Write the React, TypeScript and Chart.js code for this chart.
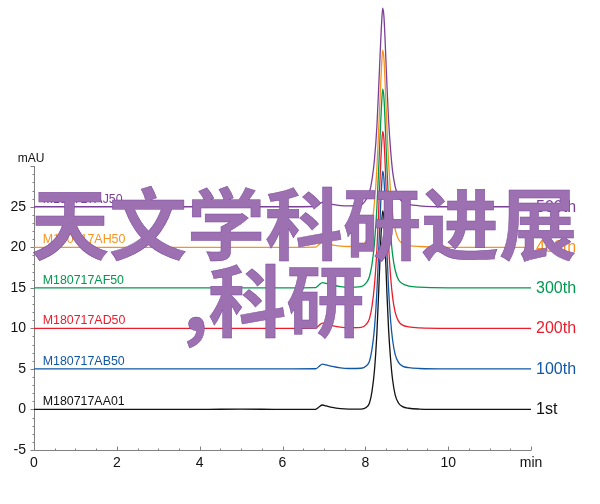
import React, { useEffect, useRef } from 'react';
import { Chart, registerables } from 'chart.js';

Chart.register(...registerables);

// Retention time (min)
const TIME_MIN = [0, 1, 2, 3, 4, 5, 6, 6.8, 6.88, 6.96, 7.05, 7.2, 7.4, 7.6, 7.9, 8.02, 8.1, 8.16, 8.22, 8.28, 8.33, 8.37, 8.4, 8.42, 8.45, 8.48, 8.52, 8.56, 8.61, 8.66, 8.72, 8.8, 8.9, 9.05, 9.3, 10, 11, 12];

// Absorbance (mAU), traces as plotted (offset by 5 mAU each)
const TRACE_1ST = [0, 0, 0, 0, 0, 0.05, 0, 0.02, 0.3, 0.55, 0.45, 0.25, 0.1, 0.05, 0.05, 0.25, 0.8, 2.2, 4.8, 9.5, 15.5, 20.5, 23.5, 24.5, 23.5, 20, 14.5, 10, 6.2, 3.6, 1.8, 0.8, 0.35, 0.15, 0.05, 0, 0, 0];
const TRACE_100TH = [5, 5, 5, 5, 5, 5, 5, 5.02, 5.3, 5.6, 5.5, 5.3, 5.12, 5.05, 5.08, 5.35, 5.95, 7.4, 10, 14.6, 20.4, 25.2, 28.2, 29.4, 28.4, 25, 19.6, 15, 11, 8.5, 6.8, 5.8, 5.35, 5.15, 5.05, 5, 5, 5];
const TRACE_200TH = [10, 10, 10, 10, 10, 10, 10, 10.03, 10.35, 10.65, 10.55, 10.35, 10.15, 10.08, 10.12, 10.5, 11.2, 12.7, 15.3, 19.8, 25.5, 30.2, 33.2, 34.3, 33.3, 30, 24.8, 20.3, 16.4, 13.8, 12, 10.9, 10.4, 10.18, 10.06, 10, 10, 10];
const TRACE_300TH = [15, 15, 15, 15, 15, 15, 15, 15.03, 15.35, 15.65, 15.55, 15.35, 15.15, 15.08, 15.15, 15.6, 16.4, 17.9, 20.5, 25, 30.6, 35.3, 38.3, 39.5, 38.4, 35.1, 30, 25.6, 21.7, 19, 17.2, 16, 15.5, 15.22, 15.08, 15, 15, 15];
const TRACE_400TH = [20, 20, 20, 20, 20, 20, 20, 20.03, 20.35, 20.6, 20.5, 20.3, 20.15, 20.1, 20.2, 20.8, 21.6, 23, 25.5, 29.8, 35.4, 40.1, 43.1, 44.3, 43.2, 40, 35, 30.6, 26.8, 24, 22.2, 21, 20.5, 20.25, 20.1, 20, 20, 20];
const TRACE_500TH = [25, 25, 25, 25, 25, 25, 25, 25.03, 25.3, 25.55, 25.45, 25.3, 25.15, 25.1, 25.25, 25.9, 26.8, 28.3, 30.8, 35, 40.6, 45.3, 48.3, 49.5, 48.4, 45.2, 40.2, 35.8, 32, 29.3, 27.5, 26.2, 25.6, 25.3, 25.12, 25, 25, 25];

const SAMPLE_NAMES = ['M180717AA01', 'M180717AB50', 'M180717AD50', 'M180717AF50', 'M180717AH50', 'M180717AJ50'];
const INJECTION_LABELS = ['1st', '100th', '200th', '300th', '400th', '500th'];
const BASELINES = [0, 5, 10, 15, 20, 25];
const TRACES = [TRACE_1ST, TRACE_100TH, TRACE_200TH, TRACE_300TH, TRACE_400TH, TRACE_500TH];
const COLORS = ['#111111', '#1257a6', '#ec1c2b', '#009a4e', '#f7941d', '#7c3f98'];

const X_TICKS = [0, 2, 4, 6, 8, 10, 12];
const Y_TICKS = [-5, 0, 5, 10, 15, 20, 25];
const Y_UNIT = 'mAU';
const X_UNIT = 'min';
const OVERLAY_LINE_1 = '天文学科研进展';
const OVERLAY_LINE_2 = ',科研';

const FONT = '"Liberation Sans", Arial, Helvetica, sans-serif';

const decor = {
  id: 'decor',
  beforeDatasetsDraw(chart: any) {
    const { ctx, chartArea, scales } = chart;
    const x = scales.x;
    const y = scales.y;
    ctx.save();
    ctx.strokeStyle = '#808080';
    ctx.lineWidth = 1;
    const x0 = Math.round(chartArea.left) + 0.5;
    const yb = Math.round(y.getPixelForValue(-5)) + 0.5;
    ctx.beginPath();
    ctx.moveTo(x0, yb);
    ctx.lineTo(x0, y.getPixelForValue(30));
    ctx.moveTo(x0, yb);
    ctx.lineTo(x.getPixelForValue(12), yb);
    for (let v = -5; v <= 30; v += 1) {
      const py = Math.round(y.getPixelForValue(v)) + 0.5;
      const len = v % 5 === 0 ? 4 : 2;
      ctx.moveTo(x0 - len, py);
      ctx.lineTo(x0, py);
    }
    for (let v = 0; v <= 12; v += 0.5) {
      const px = Math.round(x.getPixelForValue(v)) + 0.5;
      const len = v % 2 === 0 ? 4 : 2;
      ctx.moveTo(px, yb);
      ctx.lineTo(px, yb - len);
    }
    ctx.stroke();
    ctx.restore();
  },
  afterDraw(chart: any) {
    const { ctx, chartArea, scales } = chart;
    const x = scales.x;
    const y = scales.y;
    ctx.save();
    ctx.fillStyle = '#111';
    ctx.font = `12px ${FONT}`;
    ctx.textAlign = 'center';
    ctx.textBaseline = 'middle';
    ctx.fillText(Y_UNIT, chartArea.left - 3, y.getPixelForValue(30) - 8);
    for (let i = 0; i < BASELINES.length; i++) {
      const py = y.getPixelForValue(BASELINES[i]);
      ctx.fillStyle = COLORS[i];
      ctx.font = `12.4px ${FONT}`;
      ctx.textAlign = 'left';
      ctx.textBaseline = 'alphabetic';
      ctx.fillText(SAMPLE_NAMES[i], x.getPixelForValue(0.21), py - 4);
      ctx.font = `16px ${FONT}`;
      ctx.textBaseline = 'middle';
      ctx.fillText(INJECTION_LABELS[i], chartArea.right + 5, py + 0.5);
    }
    ctx.restore();
  },
};

export default function App() {
  const ref = useRef<HTMLCanvasElement | null>(null);

  useEffect(() => {
    if (!ref.current) return;
    const chart = new Chart(ref.current, {
      type: 'line',
      data: {
        labels: TIME_MIN,
        datasets: TRACES.map((tr, i) => ({
          label: INJECTION_LABELS[i],
          data: TIME_MIN.map((t, k) => ({ x: t, y: tr[k] })),
          borderColor: COLORS[i],
          backgroundColor: COLORS[i],
          borderWidth: 1.3,
          pointRadius: 0,
          cubicInterpolationMode: 'monotone' as const,
          fill: false,
        })),
      },
      options: {
        animation: false,
        responsive: false,
        maintainAspectRatio: false,
        layout: { padding: { left: 0, right: 69, top: 0, bottom: 0 } },
        plugins: { legend: { display: false }, tooltip: { enabled: false } },
        scales: {
          x: {
            type: 'linear',
            min: 0,
            max: 12,
            grid: { display: false, drawTicks: false },
            border: { display: false },
            afterBuildTicks: (s: any) => {
              s.ticks = X_TICKS.map((v) => ({ value: v }));
            },
            afterFit: (s: any) => {
              s.height = 54;
              s.paddingLeft = 0;
              s.paddingRight = 0;
            },
            ticks: {
              autoSkip: false,
              maxRotation: 0,
              padding: 5,
              color: '#111',
              font: { family: FONT, size: 14 },
              callback: (v: any) => (v === 12 ? X_UNIT : String(v)),
            },
          },
          y: {
            type: 'linear',
            min: -5,
            max: 50.5,
            grid: { display: false, drawTicks: false },
            border: { display: false },
            afterBuildTicks: (s: any) => {
              s.ticks = Y_TICKS.map((v) => ({ value: v }));
            },
            afterFit: (s: any) => {
              s.width = 34;
              s.paddingTop = 0;
              s.paddingBottom = 0;
            },
            ticks: {
              autoSkip: false,
              padding: 8,
              color: '#111',
              font: { family: FONT, size: 14 },
              callback: (v: any) => String(v),
            },
          },
        },
      },
      plugins: [decor],
    });
    return () => chart.destroy();
  }, []);

  const overlayStyle: React.CSSProperties = {
    position: 'absolute',
    whiteSpace: 'nowrap',
    fontFamily: '"Noto Sans CJK SC", sans-serif',
    fontWeight: 700,
    fontSize: 78,
    lineHeight: '78px',
    color: '#9c70b1',
    WebkitTextStroke: '0.5px #7a4a9a',
    pointerEvents: 'none',
  };

  return (
    <div style={{ position: 'fixed', left: 0, top: 0, width: 600, height: 504, background: '#fff', overflow: 'hidden' }}>
      <canvas ref={ref} width={600} height={504} style={{ display: 'block', width: 600, height: 504 }} />
      <div style={{ ...overlayStyle, left: 31, top: 181 }}>{OVERLAY_LINE_1}</div>
      <div style={{ ...overlayStyle, left: 183, top: 258 }}>{OVERLAY_LINE_2}</div>
    </div>
  );
}
